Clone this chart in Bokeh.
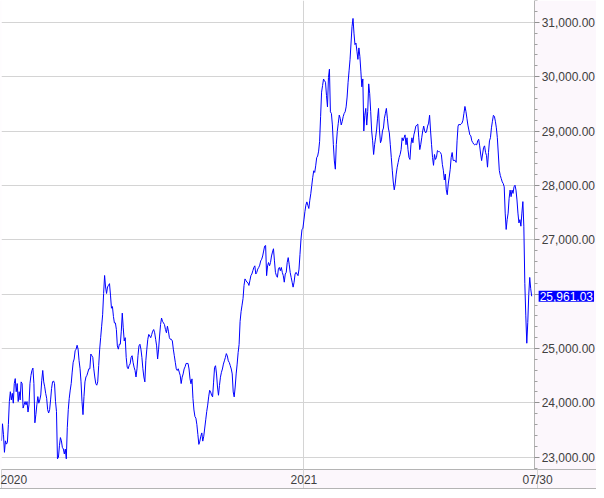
from bokeh.plotting import figure
from bokeh.models import (Range1d, FixedTicker, NumeralTickFormatter, Label,
                          ColumnDataSource, LinearAxis, BoxAnnotation)
from bokeh.embed import file_html
from bokeh.resources import INLINE

# Daily closing values (index level)
close = [
    23301, 23615, 23422, 23090, 23301, 23241, 23271, 23602, 24024, 24205,
    24054, 24175, 23994, 24355, 24446, 24205, 24355, 24024, 24205, 24054,
    24386, 24355, 23904, 23964, 24024, 23964, 24024, 23831, 23964, 24355,
    24506, 24596, 24639, 24355, 23633, 23783, 23964, 24115, 23994, 24054,
    24145, 24416, 24596, 24386, 24295, 24175, 24084, 23874, 23813, 23874,
    24054, 24265, 24386, 24404, 24355, 24024, 23843, 22970, 23000, 23211,
    23361, 23301, 23181, 23151, 23060, 23151, 22970, 23542, 23874, 24084,
    24235, 24355, 24566, 24747, 24807, 24958, 24988, 25060, 24988, 24777,
    24627, 24386, 24024, 23783, 24115, 24386, 24476, 24506, 24566, 24627,
    24627, 24898, 24867, 24837, 24627, 24476, 24355, 24325, 24386, 24687,
    24988, 25199, 25410, 25621, 26012, 26343, 26132, 26012, 26132, 26163,
    26193, 25982, 25741, 25771, 25590, 25470, 25470, 25349, 25048, 24988,
    25078, 25078, 25319, 25651, 25380, 25139, 25199, 24837, 24657, 24627,
    24687, 24717, 24837, 24867, 24747, 24657, 24596, 24476, 24627, 24867,
    25048, 25078, 24988, 24837, 24627, 24476, 24386, 24777, 24988, 25169,
    25259, 25229, 25199, 25259, 25319, 25349, 25289, 25169, 25048, 24807,
    24988, 25229, 25440, 25560, 25500, 25470, 25440, 25349, 25289, 25410,
    25319, 25199, 25169, 25169, 25139, 24988, 24867, 24747, 24627, 24596,
    24627, 24566, 24506, 24355,
    24472, 24532, 24623, 24664, 24725, 24725, 24725, 24623, 24441, 24351,
    24441, 24080, 23869, 23748, 23718, 23598, 23417, 23236, 23296, 23386,
    23447, 23296, 23386, 23537, 23688, 23839, 23959, 24110, 24231, 24201,
    24140, 24110, 24381, 24652, 24683, 24532, 24291, 24140, 24321, 24472,
    24562, 24623, 24713, 24773, 24834, 24906, 24864, 24773, 24743, 24683,
    24623, 24532, 24201, 24110, 24291, 24532, 24713, 24924, 25075, 25497,
    25677, 25798, 25919, 26160, 26280, 26250, 26220, 26208, 26160, 26250,
    26340, 26370, 26431, 26491, 26521, 26370, 26401, 26461, 26491, 26533,
    26612, 26642, 26702, 26793, 26883, 26895, 26340, 26521, 26582, 26521,
    26582, 26702, 26774, 26835, 26612, 26401, 26340, 26310, 26461, 26491,
    26431, 26491, 26401, 26340, 26220, 26370, 26401, 26582, 26672, 26551,
    26401, 26310, 26220, 26129, 26220, 26370, 26401, 26370, 26340, 26461,
    26732, 27004, 27184, 27214, 27365, 27516, 27636, 27697, 27636, 27576,
    27727, 27847, 27998, 28149, 28269, 28239, 28360, 28510, 28541, 28631,
    28812, 29264, 29716, 29837, 29957, 29927, 29897, 29656, 29445, 29987,
    30138, 29354, 29324, 29113, 28751, 28450, 28299, 28751, 28993, 29143,
    29294, 29234, 29113, 29174, 29264, 29324, 29354, 29445, 29626, 29897,
    30108, 30319, 30620, 30922, 31072, 30801, 30590, 30620, 30470, 30319,
    30530,
    30374, 30103, 29814, 29959, 29002, 29291, 29417, 29110, 29363, 29868,
    29688, 29363, 29002, 28821, 28569, 28749, 28876, 29020, 29237, 29417,
    29002, 28785, 28839, 29002, 29056, 29237, 29327, 29417, 29237, 29056,
    28966, 28749, 28515, 28280, 28063, 27919, 28027, 28208, 28334, 28424,
    28515, 28569, 28659, 28876, 28821, 28876, 28930, 28749, 28876, 28659,
    28515, 28478, 28749, 28876, 28785, 28930, 29002, 29092, 29110, 29128,
    28876, 28659, 28749, 28876, 29002, 29092, 29002, 28966, 29002, 29092,
    29146, 29291, 29002, 28749, 28515, 28370, 28569, 28478, 28515, 28641,
    28623, 28623, 28605, 28569, 28388, 28280, 28100, 28208, 27919, 27829,
    28027, 28154, 28298, 28515, 28605, 28460, 28460, 28460, 28424, 28821,
    29092, 29128, 29110, 29128, 29146, 29200, 29327, 29453, 29363, 29237,
    29110, 29020, 28930, 28912, 28821,
    28789, 28759, 28747, 28759, 28747, 28819, 28849, 28728, 28578, 28457,
    28578, 28698, 28728, 28608, 28547, 28336, 28608, 28819, 28879, 29060,
    29181, 29290, 29272, 29181, 29060, 28879, 28578, 28276, 28185, 28125,
    28065, 28034, 27974, 27491, 27190, 27370, 27491, 27763, 27914, 27793,
    27914, 27853, 27974, 28004, 27914, 27733, 27491, 27310, 27370, 27250,
    27491, 27702, 27250,
    26200, 25600, 25097, 25480, 25990, 26307, 26100, 25961.03,
]

# Date axis: positions (trading-day index) and their labels
date_tick_index = [0, 308, 546]
date_tick_labels = ["2020", "2021", "07/30"]
date_grid_index = [0, 308]

# Price axis ticks
price_ticks = [23000, 24000, 25000, 26000, 27000, 28000, 29000, 30000, 31000]
price_minor_ticks = [22800, 23200, 23400, 23600, 23800, 24200, 24400, 24600, 24800,
                     25200, 25400, 25600, 25800, 26200, 26400, 26600, 26800,
                     27200, 27400, 27600, 27800, 28200, 28400, 28600, 28800,
                     29200, 29400, 29600, 29800, 30200, 30400, 30600, 30800,
                     31200, 31400]

idx = list(range(len(close)))
src = ColumnDataSource(dict(i=idx, close=close))

PINK = "#FCF7FC"
AXIS_GREY = "#B4B4B4"
GRID_GREY = "#D4D4D4"
TEXT = "#404040"
FONT = "Liberation Sans"

X_END = 606          # visible index span incl. price-scale strip
PRICE_AXIS_AT = 543  # index position of the price scale line

p = figure(width=596, height=489, output_backend="svg", toolbar_location=None,
           x_range=Range1d(0, X_END), y_range=Range1d(22774, 31402),
           x_axis_location="below", y_axis_location=None,
           min_border_left=1, min_border_right=0, min_border_top=0, min_border_bottom=19,
           background_fill_color="white", border_fill_color=PINK)
p.outline_line_color = None
p.styles = {"border-bottom": "1px solid " + AXIS_GREY}

# grids (drawn below the price-scale strip)
p.ygrid.ticker = FixedTicker(ticks=price_ticks)
p.xgrid.ticker = FixedTicker(ticks=date_grid_index)
p.grid.grid_line_color = GRID_GREY
p.grid.grid_line_width = 1
p.grid.level = "image"

# pink price-scale strip
p.add_layout(BoxAnnotation(left=PRICE_AXIS_AT, fill_color=PINK, fill_alpha=1.0,
                           line_color=None, level="underlay"))

# line
p.line("i", "close", source=src, line_color="#0000FF", line_width=1)

# right price axis, pinned at the strip edge
ya = LinearAxis(fixed_location=PRICE_AXIS_AT)
ya.ticker = FixedTicker(ticks=price_ticks, minor_ticks=price_minor_ticks)
ya.formatter = NumeralTickFormatter(format="0,0.00")
# the tick label hidden under the last-value marker is not shown
ya.major_label_overrides = {t: "" for t in price_ticks if abs(t - close[-1]) < 250}
ya.axis_line_color = AXIS_GREY
ya.major_tick_line_color = "#909090"
ya.minor_tick_line_color = "#A0A0A0"
ya.major_tick_out = 5
ya.major_tick_in = 0
ya.minor_tick_out = 3
ya.minor_tick_in = 0
ya.major_label_standoff = 2
ya.major_label_text_font = FONT
ya.major_label_text_font_size = "12px"
ya.major_label_text_color = TEXT
p.add_layout(ya, "right")

# bottom date axis
xa = p.xaxis[0]
xa.ticker = FixedTicker(ticks=date_tick_index)
xa.major_label_overrides = {i: s for i, s in zip(date_tick_index, date_tick_labels)}
xa.axis_line_color = AXIS_GREY
xa.major_tick_line_color = GRID_GREY
xa.major_tick_out = 19
xa.major_tick_in = 0
xa.minor_tick_out = 0
xa.minor_tick_in = 0
xa.major_label_standoff = -16
xa.major_label_text_align = "left"
xa.major_label_text_font = FONT
xa.major_label_text_font_size = "12px"
xa.major_label_text_color = TEXT

# last value marker on the price axis
label_kw = dict(x=PRICE_AXIS_AT, y=close[-1], x_offset=4,
                text=f"{close[-1]:,.2f}", text_baseline="middle", text_align="left",
                text_font=FONT, text_font_size="12px", text_color="white",
                background_fill_color="#0000FF", background_fill_alpha=1.0)
if "padding" in Label.properties():
    label_kw["padding"] = 1
p.add_layout(Label(**label_kw))

open("out.html", "w").write(file_html(p, INLINE))
